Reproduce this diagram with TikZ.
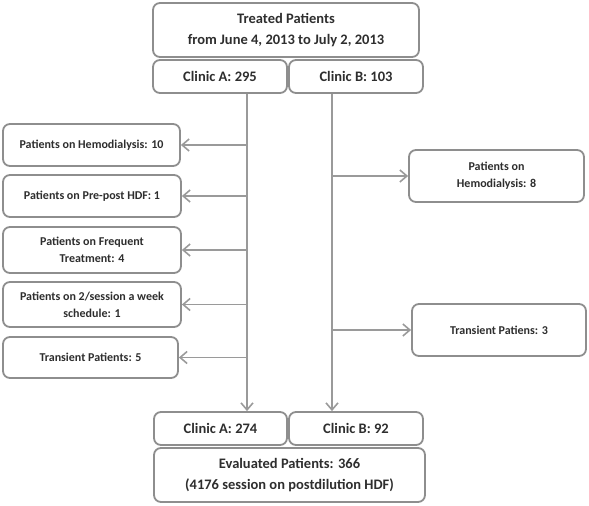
\documentclass[tikz,border=0pt]{standalone}
\usepackage{fontspec}
\setmainfont{Carlito}
\usetikzlibrary{arrows.meta}
\definecolor{boxline}{HTML}{8E8E8E}
\definecolor{conn}{HTML}{9A9A9A}
\definecolor{txt}{HTML}{2E2E2E}
\tikzset{
  box/.style={draw=boxline, line width=1.8pt, rounded corners=7pt, fill=white,
    text=txt, font=\bfseries\fontsize{12}{17}\selectfont, align=center, inner sep=1pt},
  bigbox/.style={box, font=\bfseries\fontsize{14.5}{21}\selectfont},
  conline/.style={draw=conn, line width=1.8pt},
  conarrow/.style={conline, -{Straight Barb[length=7pt,width=12pt,line width=1.6pt]}}
}
\begin{document}
\begin{tikzpicture}[x=1pt,y=-1pt]
\useasboundingbox (0,0) rectangle (589,506);
\node[bigbox, minimum width=266pt, minimum height=54pt] (top) at (286,30) {Treated Patients\\from June 4, 2013 to July 2, 2013};
\node[bigbox, minimum width=134pt, minimum height=33pt] (ca) at (220,76.5) {Clinic A: 295};
\node[bigbox, minimum width=134pt, minimum height=33pt] (cb) at (356,76.5) {Clinic B: 103};

\node[box, minimum width=177pt, minimum height=42pt] (l1) at (91.5,145) {Patients on Hemodialysis: 10};
\node[box, minimum width=178pt, minimum height=42pt] (l2) at (92,196) {Patients on Pre-post HDF: 1};
\node[box, minimum width=178pt, minimum height=46pt] (l3) at (92,250) {Patients on Frequent\\Treatment: 4};
\node[box, minimum width=178pt, minimum height=45pt] (l4) at (92,304.5) {Patients on 2/session a week\\schedule: 1};
\node[box, minimum width=175pt, minimum height=41pt] (l5) at (90.5,357.5) {Transient Patients: 5};

\node[box, minimum width=175pt, minimum height=52pt] (r1) at (496.5,176) {Patients on\\Hemodialysis: 8};
\node[box, minimum width=174pt, minimum height=52pt] (r2) at (499,330) {Transient Patiens: 3};

\node[bigbox, minimum width=133pt, minimum height=33pt] (ba) at (220.5,428.5) {Clinic A: 274};
\node[bigbox, minimum width=134pt, minimum height=33pt] (bb) at (356,428.5) {Clinic B: 92};
\node[bigbox, minimum width=271pt, minimum height=54pt] (ev) at (289.5,475) {Evaluated Patients: 366\\(4176 session on postdilution HDF)};

\coordinate (xa) at (247,0);
\coordinate (xb) at (332,0);
\draw[conarrow] (ca.south -| xa) -- (ba.north -| xa);
\draw[conarrow] (cb.south -| xb) -- (bb.north -| xb);
\foreach \n in {l1,l2,l3,l4,l5} {
  \draw[conarrow] (\n.east -| xa) -- (\n.east);
}
\foreach \n in {r1,r2} {
  \draw[conarrow] (\n.west -| xb) -- (\n.west);
}
\end{tikzpicture}
\end{document}
